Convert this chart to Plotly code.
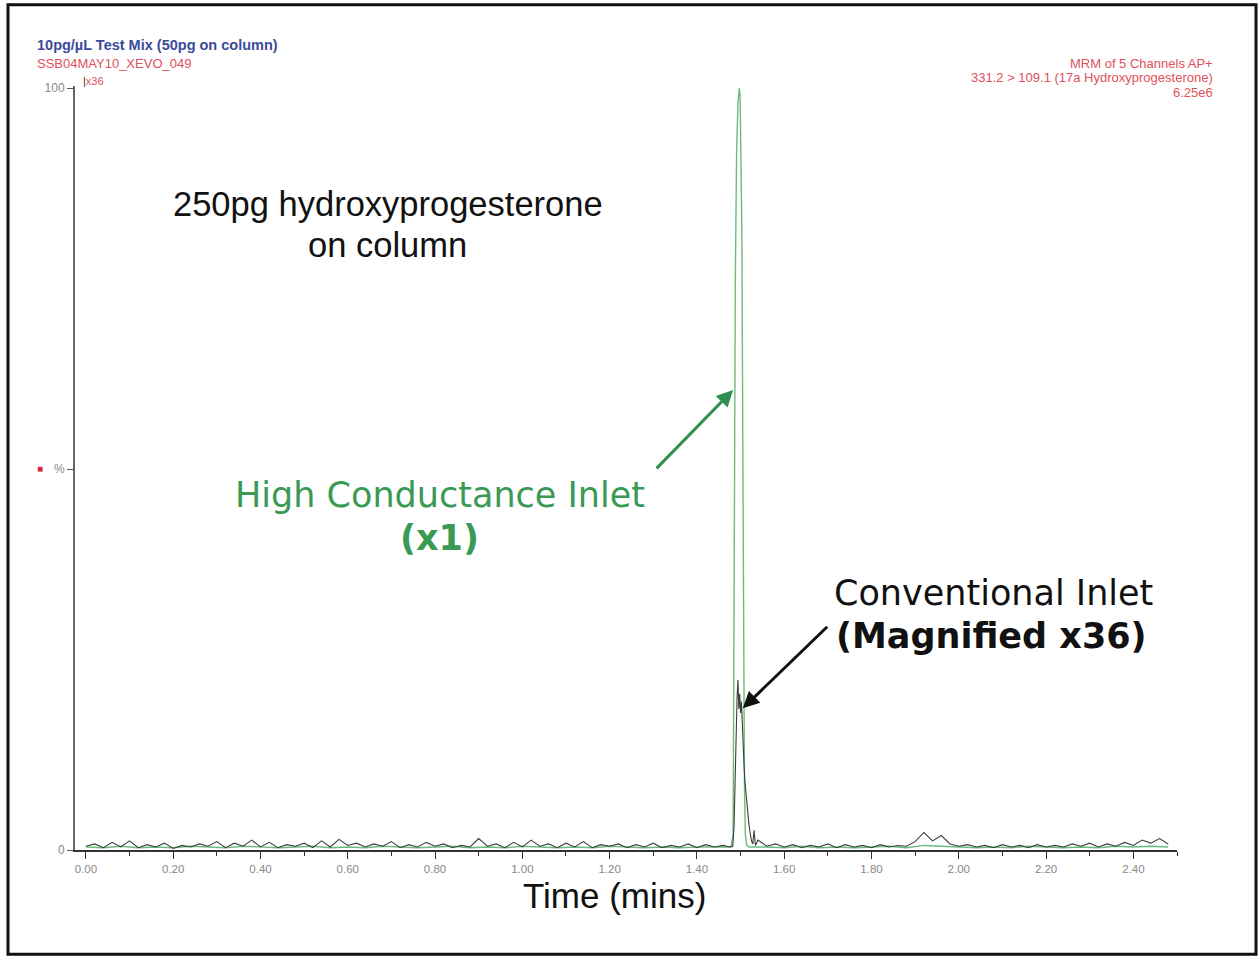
import plotly.graph_objects as go

# ---------------- data ----------------
conv_time = [
    0.00, 0.02, 0.04, 0.06, 0.08, 0.10, 0.12, 0.14, 0.16, 0.18,
    0.20, 0.22, 0.24, 0.26, 0.28, 0.30, 0.32, 0.34, 0.36, 0.38,
    0.40, 0.42, 0.44, 0.46, 0.48, 0.50, 0.52, 0.54, 0.56, 0.58,
    0.60, 0.62, 0.64, 0.66, 0.68, 0.70, 0.72, 0.74, 0.76, 0.78,
    0.80, 0.82, 0.84, 0.86, 0.88, 0.90, 0.92, 0.94, 0.96, 0.98,
    1.00, 1.02, 1.04, 1.06, 1.08, 1.10, 1.12, 1.14, 1.16, 1.18,
    1.20, 1.22, 1.24, 1.26, 1.28, 1.30, 1.32, 1.34, 1.36, 1.38,
    1.40, 1.42, 1.44, 1.46,
    1.475, 1.482, 1.485, 1.488, 1.490, 1.492, 1.494, 1.496, 1.498, 1.500,
    1.502, 1.504, 1.506, 1.508, 1.510, 1.513, 1.516, 1.519, 1.522, 1.525,
    1.528, 1.531, 1.534,
    1.54, 1.56, 1.58, 1.60, 1.62, 1.64, 1.66, 1.68, 1.70, 1.72,
    1.74, 1.76, 1.78, 1.80, 1.82, 1.84, 1.86, 1.88, 1.90, 1.92,
    1.94, 1.96, 1.98, 2.00, 2.02, 2.04, 2.06, 2.08, 2.10, 2.12,
    2.14, 2.16, 2.18, 2.20, 2.22, 2.24, 2.26, 2.28, 2.30, 2.32,
    2.34, 2.36, 2.38, 2.40, 2.42, 2.44, 2.46, 2.48,
]
conv_pct = [
    0.5, 0.8, 0.3, 1.0, 0.4, 1.2, 0.3, 0.7, 0.4, 0.9,
    0.2, 0.6, 0.4, 0.8, 0.5, 1.1, 0.3, 0.9, 0.5, 1.3,
    0.4, 1.0, 0.3, 0.7, 0.5, 0.9, 0.3, 1.2, 0.4, 1.4,
    0.6, 0.9, 0.4, 0.8, 0.5, 1.1, 0.3, 0.7, 0.4, 1.0,
    0.5, 0.8, 0.3, 0.6, 0.4, 1.5, 0.5, 0.8, 0.3, 1.0,
    0.4, 1.3, 0.5, 0.8, 0.3, 0.9, 0.4, 1.1, 0.3, 0.7,
    0.5, 0.8, 0.3, 0.7, 0.4, 0.9, 0.3, 0.6, 0.4, 0.8,
    0.3, 0.7, 0.4, 0.6,
    0.4, 0.5, 3.0, 12.0, 17.0, 20.0, 22.3, 18.5, 20.5, 18.0,
    19.5, 16.0, 14.0, 11.0, 9.0, 7.0, 5.0, 3.5, 2.2, 1.2,
    0.8, 2.6, 0.6,
    1.3, 0.5, 0.8, 0.4, 0.7, 0.3, 0.6, 0.4, 0.8, 0.3,
    0.7, 0.4, 0.6, 0.3, 0.7, 0.4, 0.6, 0.5, 1.1, 2.3,
    1.2, 1.9, 0.8, 0.5, 0.7, 0.4, 0.6, 0.3, 0.7, 0.4,
    0.6, 0.3, 0.7, 0.4, 0.6, 0.4, 0.8, 0.5, 0.9, 0.4,
    0.8, 0.5, 1.0, 0.6, 1.3, 0.9, 1.5, 0.8,
]

hc_time = [
    0.00, 0.04, 0.08, 0.12, 0.16, 0.20, 0.24, 0.28, 0.32, 0.36,
    0.40, 0.44, 0.48, 0.52, 0.56, 0.60, 0.64, 0.68, 0.72, 0.76,
    0.80, 0.84, 0.88, 0.92, 0.96, 1.00, 1.04, 1.08, 1.12, 1.16,
    1.20, 1.24, 1.28, 1.32, 1.36, 1.40, 1.44,
    1.478, 1.483, 1.485, 1.488, 1.491, 1.494, 1.497, 1.499, 1.501, 1.503,
    1.505, 1.507, 1.509, 1.511, 1.514, 1.520,
    1.56, 1.60, 1.64, 1.68, 1.72, 1.76, 1.80, 1.84, 1.88, 1.92,
    1.96, 2.00, 2.04, 2.08, 2.12, 2.16, 2.20, 2.24, 2.28, 2.32,
    2.36, 2.40, 2.44, 2.48,
]
hc_pct = [
    0.4, 0.3, 0.5, 0.3, 0.4, 0.3, 0.5, 0.4, 0.3, 0.5,
    0.4, 0.3, 0.4, 0.5, 0.3, 0.4, 0.3, 0.5, 0.4, 0.3,
    0.4, 0.5, 0.3, 0.4, 0.3, 0.5, 0.4, 0.3, 0.4, 0.3,
    0.5, 0.4, 0.3, 0.4, 0.3, 0.4, 0.4,
    0.4, 2.0, 30.0, 75.0, 92.0, 98.0, 100.0, 99.0, 90.0, 81.0,
    55.0, 25.0, 8.0, 2.0, 0.6, 0.4,
    0.4, 0.3, 0.5, 0.3, 0.4, 0.3, 0.4, 0.5, 0.3, 0.6,
    0.5, 0.4, 0.3, 0.4, 0.3, 0.5, 0.4, 0.3, 0.4, 0.3,
    0.5, 0.4, 0.5, 0.4,
]

x_tick_vals = [0.0, 0.2, 0.4, 0.6, 0.8, 1.0, 1.2, 1.4, 1.6, 1.8, 2.0, 2.2, 2.4]
x_tick_text = ["0.00", "0.20", "0.40", "0.60", "0.80", "1.00", "1.20",
               "1.40", "1.60", "1.80", "2.00", "2.20", "2.40"]
y_tick_vals = [0, 50, 100]
y_tick_text = ["0", "%", "100"]

# ---------------- figure ----------------
GREEN_LINE = "#6cbb7c"
GREEN_TEXT = "#3a9a55"
DARK_LINE = "#3a403b"
RED = "#e0505c"
SANS = "Liberation Sans, Arial, sans-serif"
VERD = "DejaVu Sans, Verdana, sans-serif"

fig = go.Figure()
fig.add_trace(go.Scatter(x=hc_time, y=hc_pct, mode="lines",
                         line=dict(color=GREEN_LINE, width=1.4),
                         name="High Conductance Inlet", showlegend=False))
fig.add_trace(go.Scatter(x=conv_time, y=conv_pct, mode="lines",
                         line=dict(color=DARK_LINE, width=1.1),
                         name="Conventional Inlet", showlegend=False))

annotations = []

def txt(text, x, y, size, color, family, xref="x", yref="y",
        xanchor="center", yanchor="middle", align="center"):
    annotations.append(dict(text=text, x=x, y=y, xref=xref, yref=yref,
                            showarrow=False, xanchor=xanchor, yanchor=yanchor,
                            align=align,
                            font=dict(size=size, color=color, family=family)))

# big labels
txt("250pg hydroxyprogesterone", 0.692, 84.8, 34.5, "#111111", SANS)
txt("on column", 0.692, 79.4, 34.5, "#111111", SANS)
txt("High Conductance Inlet", 0.811, 46.6, 35, GREEN_TEXT, VERD)
txt("<b>(x1)</b>", 0.811, 41.0, 35, GREEN_TEXT, VERD)
txt("Conventional Inlet", 2.079, 33.7, 35, "#111111", VERD)
txt("<b>(Magnified x36)</b>", 2.076, 28.1, 35, "#111111", VERD)
txt("Time (mins)", 0.49, -0.059, 35, "#111111", SANS, xref="paper", yref="paper")

# small header texts
txt("<b>10pg/µL Test Mix (50pg on column)</b>", -0.0363, 1.0537, 14.5, "#3b4a9a", SANS,
    xref="paper", yref="paper", xanchor="left")
txt("SSB04MAY10_XEVO_049", -0.0363, 1.030, 13, RED, SANS,
    xref="paper", yref="paper", xanchor="left")
txt("<span style='color:#333'>|</span>x36", 0.0055, 1.0065, 11, RED, SANS,
    xref="paper", yref="paper", xanchor="left")
txt("MRM of 5 Channels AP+", 1.0345, 1.0288, 13, RED, SANS,
    xref="paper", yref="paper", xanchor="right")
txt("331.2 > 109.1 (17a Hydroxyprogesterone)", 1.0345, 1.0105, 13, RED, SANS,
    xref="paper", yref="paper", xanchor="right")
txt("6.25e6", 1.0345, 0.991, 13, RED, SANS,
    xref="paper", yref="paper", xanchor="right")
txt("■", -0.0318, 0.5, 10, "#d0303c", SANS, xref="paper", yref="paper")

# arrows
annotations.append(dict(x=1.483, y=60.4, xref="x", yref="y", text="",
                        showarrow=True, ax=-78, ay=80, arrowhead=2,
                        arrowsize=1.1, arrowwidth=3, arrowcolor="#2e8f50",
                        standoff=0))
annotations.append(dict(x=1.505, y=18.6, xref="x", yref="y", text="",
                        showarrow=True, ax=86, ay=-83, arrowhead=2,
                        arrowsize=1.1, arrowwidth=3, arrowcolor="#111111",
                        standoff=0))

fig.update_layout(
    width=1260, height=956, autosize=False,
    margin=dict(l=75, r=83, t=86, b=106),
    paper_bgcolor="white", plot_bgcolor="white",
    showlegend=False,
    annotations=annotations,
    shapes=[dict(type="rect", xref="paper", yref="paper",
                 x0=-0.0608, x1=1.0717, y0=-0.1365, y1=1.1063,
                 line=dict(color="#111111", width=3))],
    xaxis=dict(range=[-0.025, 2.5], tickmode="array",
               tickvals=x_tick_vals, ticktext=x_tick_text,
               ticks="outside", ticklen=7, tickwidth=1, tickcolor="#333",
               minor=dict(dtick=0.1, tick0=0, ticks="outside", ticklen=4,
                          tickcolor="#333", showgrid=False),
               showline=True, linecolor="#333", linewidth=1.5,
               showgrid=False, zeroline=False,
               tickfont=dict(size=11.5, color="#888", family=SANS)),
    yaxis=dict(range=[0, 100.3], tickmode="array",
               tickvals=y_tick_vals, ticktext=y_tick_text,
               ticks="outside", ticklen=6, tickwidth=1, tickcolor="#555",
               showline=True, linecolor="#666", linewidth=2,
               showgrid=False, zeroline=False,
               tickfont=dict(size=12, color="#888", family=SANS)),
)

fig.write_html("out.html",
               config={"displayModeBar": False},
               post_script="document.body.style.margin='0';")
